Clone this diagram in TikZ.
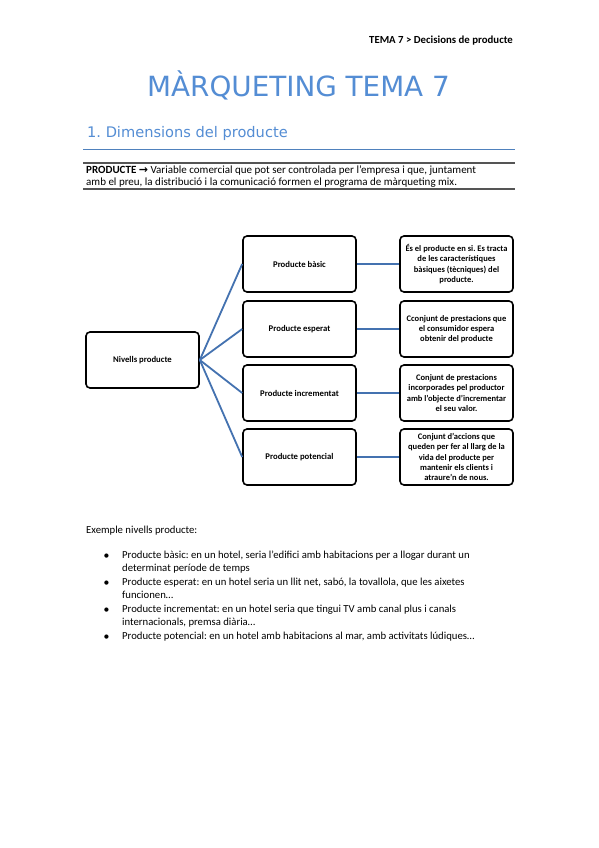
\documentclass[tikz,border=0pt]{standalone}
\usepackage{fontspec}
\setmainfont{Carlito}
\newfontfamily\headfont{DejaVu Sans}
\definecolor{titleblue}{RGB}{84,141,212}
\definecolor{ruleblue}{RGB}{79,129,189}
\definecolor{linkblue}{RGB}{68,114,176}
\definecolor{rulegray}{RGB}{85,85,85}
\begin{document}
\frenchspacing
\begin{tikzpicture}[x=1pt,y=-1pt,
  box/.style={draw=black, line width=1.6pt, rounded corners=4pt, minimum width=113pt, minimum height=56pt, inner sep=2pt, align=center, font=\fontsize{8.7}{10}\selectfont\bfseries},
  desc/.style={box, font=\fontsize{8.5}{10.2}\selectfont\bfseries},
  link/.style={draw=linkblue, line width=1.8pt},
  txt/.style={inner sep=0pt, anchor=base west, font=\fontsize{10.7}{13.5}\selectfont},
  bul/.style={inner sep=0pt, anchor=base west, font=\headfont\fontsize{5.5}{7}\selectfont}]
\fill[white] (0,0) rectangle (599,848);
\useasboundingbox (0,0) rectangle (599,848);
% header
\node[inner sep=0pt, anchor=base east, font=\fontsize{10.8}{12}\selectfont\bfseries] (hdr) at (513,44) {TEMA 7 > Decisions de producte};
% title
\node[inner sep=0pt, anchor=base, font=\headfont\fontsize{27.8}{30}\selectfont, text=titleblue] (title) at (298.5,97) {MÀRQUETING TEMA 7};
\node[inner sep=0pt, anchor=base west, font=\headfont\fontsize{14.6}{17}\selectfont, text=titleblue] (h1) at (87,138) {1. Dimensions del producte};
\draw[ruleblue, line width=1pt] (83,149) -- (515,149);
% definition
\draw[rulegray, line width=1.5pt] (83,163) -- (515,163);
\draw[rulegray, line width=1.5pt] (83,189) -- (515,189);
\node[txt, font=\fontsize{11}{12}\selectfont] (def1) at (86,173) {\textbf{PRODUCTE} {\headfont\bfseries →} Variable comercial que pot ser controlada per l'empresa i que, juntament};
\node[txt, font=\fontsize{11}{12}\selectfont] (def2) at (86,185) {amb el preu, la distribució i la comunicació formen el  programa de màrqueting mix.};
% diagram
\node[box] (niv) at (142.5,360) {Nivells producte};
\node[box] (b1) at (299.5,264) {Producte bàsic};
\node[box] (b2) at (299.5,329) {Producte esperat};
\node[box] (b3) at (299.5,393) {Producte incrementat};
\node[box] (b4) at (299.5,457) {Producte potencial};
\node[desc] (d1) at (456.5,264) {És el producte en si. Es tracta\\de les característiques\\bàsiques (tècniques) del\\producte.};
\node[desc] (d2) at (456.5,329) {Cconjunt de prestacions que\\el consumidor espera\\obtenir del producte};
\node[desc] (d3) at (456.5,393) {Conjunt de prestacions\\incorporades pel productor\\amb l'objecte d'incrementar\\el seu valor.};
\node[desc] (d4) at (456.5,457) {Conjunt d'accions que\\queden per fer al llarg de la\\vida del producte per\\mantenir els clients i\\atraure'n de nous.};
\foreach \i in {1,2,3,4}{
  \draw[link] (niv.east) -- (b\i.west);
  \draw[link] (b\i.east) -- (d\i.west);
}
% examples
\node[txt] (ex) at (86,533) {Exemple nivells producte:};
\node[bul] (u1) at (104,557) {●};
\node[txt] (e1a) at (122,558) {Producte bàsic: en un hotel, seria l'edifici amb habitacions per a llogar durant un};
\node[txt] (e1b) at (122,571.5) {determinat període de temps};
\node[bul] (u2) at (104,584) {●};
\node[txt] (e2a) at (122,585) {Producte esperat: en un hotel seria un llit net, sabó, la tovallola, que les aixetes};
\node[txt] (e2b) at (122,598.5) {funcionen…};
\node[bul] (u3) at (104,611) {●};
\node[txt] (e3a) at (122,612) {Producte incrementat: en un hotel seria que tingui TV amb canal plus i canals};
\node[txt] (e3b) at (122,625.5) {internacionals, premsa diària…};
\node[bul] (u4) at (104,638) {●};
\node[txt] (e4a) at (122,639) {Producte potencial: en un hotel amb habitacions al mar, amb activitats lúdiques…};
\end{tikzpicture}
\end{document}
